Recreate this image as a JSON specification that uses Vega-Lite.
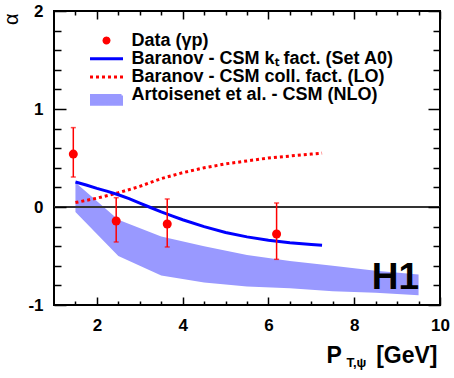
{
  "$schema": "https://vega.github.io/schema/vega-lite/v6.json",
  "width": 386,
  "height": 294,
  "autosize": {"type": "none"},
  "padding": {"left": 54, "top": 11, "right": 14, "bottom": 73},
  "background": "white",
  "config": {"view": {"stroke": "black", "strokeWidth": 2}, "font": "Liberation Sans"},
  "datasets": {
    "points": [
      {"pt": 1.45, "alpha": 0.54, "lo": 0.306, "hi": 0.81, "series": "Data (γp)"},
      {"pt": 2.45, "alpha": -0.143, "lo": -0.357, "hi": 0.095, "series": "Data (γp)"},
      {"pt": 3.64, "alpha": -0.173, "lo": -0.408, "hi": 0.082, "series": "Data (γp)"},
      {"pt": 6.19, "alpha": -0.276, "lo": -0.534, "hi": 0.041, "series": "Data (γp)"}
    ],
    "kt": [
      {"pt": 1.5, "alpha": 0.255, "series": "Baranov - CSM kₜ fact. (Set A0)"},
      {"pt": 1.75, "alpha": 0.225, "series": "Baranov - CSM kₜ fact. (Set A0)"},
      {"pt": 2.0, "alpha": 0.19, "series": "Baranov - CSM kₜ fact. (Set A0)"},
      {"pt": 2.25, "alpha": 0.16, "series": "Baranov - CSM kₜ fact. (Set A0)"},
      {"pt": 2.5, "alpha": 0.125, "series": "Baranov - CSM kₜ fact. (Set A0)"},
      {"pt": 2.75, "alpha": 0.085, "series": "Baranov - CSM kₜ fact. (Set A0)"},
      {"pt": 3.0, "alpha": 0.04, "series": "Baranov - CSM kₜ fact. (Set A0)"},
      {"pt": 3.25, "alpha": -0.005, "series": "Baranov - CSM kₜ fact. (Set A0)"},
      {"pt": 3.5, "alpha": -0.05, "series": "Baranov - CSM kₜ fact. (Set A0)"},
      {"pt": 3.75, "alpha": -0.09, "series": "Baranov - CSM kₜ fact. (Set A0)"},
      {"pt": 4.0, "alpha": -0.13, "series": "Baranov - CSM kₜ fact. (Set A0)"},
      {"pt": 4.5, "alpha": -0.2, "series": "Baranov - CSM kₜ fact. (Set A0)"},
      {"pt": 5.0, "alpha": -0.26, "series": "Baranov - CSM kₜ fact. (Set A0)"},
      {"pt": 5.5, "alpha": -0.305, "series": "Baranov - CSM kₜ fact. (Set A0)"},
      {"pt": 6.0, "alpha": -0.34, "series": "Baranov - CSM kₜ fact. (Set A0)"},
      {"pt": 6.5, "alpha": -0.365, "series": "Baranov - CSM kₜ fact. (Set A0)"},
      {"pt": 7.0, "alpha": -0.383, "series": "Baranov - CSM kₜ fact. (Set A0)"},
      {"pt": 7.25, "alpha": -0.39, "series": "Baranov - CSM kₜ fact. (Set A0)"}
    ],
    "coll": [
      {"pt": 1.5, "alpha": 0.045, "series": "Baranov - CSM coll. fact. (LO)"},
      {"pt": 2.0, "alpha": 0.09, "series": "Baranov - CSM coll. fact. (LO)"},
      {"pt": 2.5, "alpha": 0.145, "series": "Baranov - CSM coll. fact. (LO)"},
      {"pt": 3.0, "alpha": 0.21, "series": "Baranov - CSM coll. fact. (LO)"},
      {"pt": 3.5, "alpha": 0.29, "series": "Baranov - CSM coll. fact. (LO)"},
      {"pt": 4.0, "alpha": 0.35, "series": "Baranov - CSM coll. fact. (LO)"},
      {"pt": 4.5, "alpha": 0.4, "series": "Baranov - CSM coll. fact. (LO)"},
      {"pt": 5.0, "alpha": 0.44, "series": "Baranov - CSM coll. fact. (LO)"},
      {"pt": 5.5, "alpha": 0.47, "series": "Baranov - CSM coll. fact. (LO)"},
      {"pt": 6.0, "alpha": 0.5, "series": "Baranov - CSM coll. fact. (LO)"},
      {"pt": 6.5, "alpha": 0.52, "series": "Baranov - CSM coll. fact. (LO)"},
      {"pt": 7.0, "alpha": 0.54, "series": "Baranov - CSM coll. fact. (LO)"},
      {"pt": 7.25, "alpha": 0.55, "series": "Baranov - CSM coll. fact. (LO)"}
    ],
    "nlo": [
      {"pt": 1.5, "lo": -0.05, "hi": 0.25, "series": "Artoisenet et al. - CSM (NLO)"},
      {"pt": 2.5, "lo": -0.5, "hi": -0.13, "series": "Artoisenet et al. - CSM (NLO)"},
      {"pt": 3.5, "lo": -0.7, "hi": -0.3, "series": "Artoisenet et al. - CSM (NLO)"},
      {"pt": 4.5, "lo": -0.77, "hi": -0.4, "series": "Artoisenet et al. - CSM (NLO)"},
      {"pt": 5.5, "lo": -0.81, "hi": -0.49, "series": "Artoisenet et al. - CSM (NLO)"},
      {"pt": 6.5, "lo": -0.83, "hi": -0.55, "series": "Artoisenet et al. - CSM (NLO)"},
      {"pt": 7.5, "lo": -0.86, "hi": -0.6, "series": "Artoisenet et al. - CSM (NLO)"},
      {"pt": 8.5, "lo": -0.875, "hi": -0.65, "series": "Artoisenet et al. - CSM (NLO)"},
      {"pt": 9.5, "lo": -0.9, "hi": -0.69, "series": "Artoisenet et al. - CSM (NLO)"}
    ]
  },
  "resolve": {"axis": {"x": "independent", "y": "independent"}},
  "layer": [
    {
      "data": {"name": "nlo"},
      "mark": {"type": "area", "opacity": 1},
      "encoding": {
        "x": {
          "field": "pt", "type": "quantitative",
          "scale": {"domain": [1, 10], "nice": false, "zero": false},
          "axis": {
            "orient": "bottom", "offset": -8, "zindex": 1,
            "values": [2, 4, 6, 8, 10],
            "domain": false, "grid": false,
            "tickColor": "black", "tickWidth": 1.5, "tickSize": 8,
            "labelExpr": "'' + datum.value",
            "labelFont": "Liberation Sans", "labelFontWeight": "bold", "labelFontSize": 17, "labelColor": "black",
            "labelPadding": 12, "labelFlush": false, "labelOverlap": false, "labelBound": false,
            "title": "P",
            "titleFont": "Liberation Sans", "titleFontSize": 23, "titleFontWeight": "bold", "titleColor": "black",
            "titleX": 272, "titleY": 65, "titleAlign": "left", "titleBaseline": "alphabetic", "titleAngle": 0
          }
        },
        "y": {
          "field": "lo", "type": "quantitative",
          "scale": {"domain": [-1, 2], "nice": false, "zero": false},
          "axis": {
            "orient": "left", "offset": -12, "zindex": 1,
            "values": [-1, 0, 1, 2],
            "domain": false, "grid": false,
            "tickColor": "black", "tickWidth": 1.5, "tickSize": 12,
            "labelExpr": "datum.value < 0 ? '-' + abs(datum.value) : '' + datum.value",
            "labelFont": "Liberation Sans", "labelFontWeight": "bold", "labelFontSize": 17, "labelColor": "black",
            "labelPadding": 11, "labelFlush": false, "labelOverlap": false, "labelBound": false,
            "title": "α",
            "titleFont": "Liberation Sans", "titleFontSize": 20, "titleFontWeight": "normal", "titleColor": "black",
            "titleX": -49, "titleY": 2, "titleAlign": "right", "titleBaseline": "alphabetic", "titleAngle": -90
          }
        },
        "y2": {"field": "hi"},
        "color": {
          "field": "series", "type": "nominal",
          "scale": {
            "domain": ["Data (γp)", "Baranov - CSM kₜ fact. (Set A0)", "Baranov - CSM coll. fact. (LO)", "Artoisenet et al. - CSM (NLO)"],
            "range": ["#ff0000", "#0000ff", "#ff0000", "#9999ff"]
          },
          "legend": {
            "orient": "none", "legendX": 43.5, "legendY": 20.5, "title": null, "padding": 0,
            "labelFont": "Liberation Sans", "labelFontSize": 18, "labelFontWeight": "bold", "labelColor": "black",
            "labelLimit": 400, "labelOffset": 16, "rowPadding": 0.3,
            "symbolSize": 225, "symbolStrokeWidth": 3, "symbolOpacity": 1,
            "symbolType": {"expr": "indexof(datum.value, 'Data') === 0 ? 'M0.3333,0L0.2887,0.1667L0.1667,0.2887L0,0.3333L-0.1667,0.2887L-0.2887,0.1667L-0.3333,0L-0.2887,-0.1667L-0.1667,-0.2887L0,-0.3333L0.1667,-0.2887L0.2887,-0.1667Z' : indexof(datum.value, 'Artoisenet') === 0 ? 'M-2,0.013H2V1.173H-2Z' : 'M-2.2,0H2.2'"},
            "symbolDash": {"expr": "indexof(datum.value, 'coll') >= 0 ? [3, 3] : [1, 0]"}
          }
        }
      }
    },
    {
      "data": {"values": [{"level": 0}]},
      "mark": {"type": "rule", "color": "#333333", "strokeWidth": 2},
      "encoding": {
        "y": {"field": "level", "type": "quantitative", "scale": {"domain": [-1, 2], "nice": false, "zero": false}, "axis": null}
      }
    },
    {
      "data": {"name": "coll"},
      "mark": {"type": "line", "strokeWidth": 3, "strokeDash": [3, 3]},
      "encoding": {
        "x": {
          "field": "pt", "type": "quantitative", "scale": {"domain": [1, 10], "nice": false, "zero": false},
          "axis": {
            "orient": "bottom", "offset": -4, "zindex": 1,
            "values": [1.5, 2.5, 3, 3.5, 4.5, 5, 5.5, 6.5, 7, 7.5, 8.5, 9, 9.5],
            "domain": false, "grid": false, "labels": false,
            "tickColor": "black", "tickWidth": 1.5, "tickSize": 4,
            "title": "[GeV]",
            "titleFont": "Liberation Sans", "titleFontSize": 23, "titleFontWeight": "bold", "titleColor": "black",
            "titleX": 383, "titleY": 61, "titleAlign": "right", "titleBaseline": "alphabetic", "titleAngle": 0
          }
        },
        "y": {
          "field": "alpha", "type": "quantitative", "scale": {"domain": [-1, 2], "nice": false, "zero": false},
          "axis": {
            "orient": "left", "offset": -7, "zindex": 1,
            "values": [-0.8, -0.6, -0.4, -0.2, 0.2, 0.4, 0.6, 0.8, 1.2, 1.4, 1.6, 1.8],
            "domain": false, "grid": false, "labels": false, "title": null,
            "tickColor": "black", "tickWidth": 1.5, "tickSize": 7
          }
        },
        "color": {
          "field": "series", "type": "nominal",
          "scale": {
            "domain": ["Data (γp)", "Baranov - CSM kₜ fact. (Set A0)", "Baranov - CSM coll. fact. (LO)", "Artoisenet et al. - CSM (NLO)"],
            "range": ["#ff0000", "#0000ff", "#ff0000", "#9999ff"]
          }
        }
      }
    },
    {
      "data": {"name": "kt"},
      "mark": {"type": "line", "strokeWidth": 3},
      "encoding": {
        "x": {
          "field": "pt", "type": "quantitative", "scale": {"domain": [1, 10], "nice": false, "zero": false},
          "axis": {
            "orient": "top", "offset": -8, "zindex": 1,
            "values": [2, 4, 6, 8, 10],
            "domain": false, "grid": false, "labels": false,
            "tickColor": "black", "tickWidth": 1.5, "tickSize": 8,
            "title": "T,ψ",
            "titleFont": "Liberation Sans", "titleFontSize": 13, "titleFontWeight": "bold", "titleColor": "black",
            "titleX": 292, "titleY": 347, "titleAlign": "left", "titleBaseline": "alphabetic", "titleAngle": 0
          }
        },
        "y": {
          "field": "alpha", "type": "quantitative", "scale": {"domain": [-1, 2], "nice": false, "zero": false},
          "axis": {
            "orient": "right", "offset": -12, "zindex": 1,
            "values": [-1, 0, 1, 2],
            "domain": false, "grid": false, "labels": false, "title": null,
            "tickColor": "black", "tickWidth": 1.5, "tickSize": 12
          }
        },
        "color": {
          "field": "series", "type": "nominal",
          "scale": {
            "domain": ["Data (γp)", "Baranov - CSM kₜ fact. (Set A0)", "Baranov - CSM coll. fact. (LO)", "Artoisenet et al. - CSM (NLO)"],
            "range": ["#ff0000", "#0000ff", "#ff0000", "#9999ff"]
          }
        }
      }
    },
    {
      "data": {"name": "points"},
      "mark": {"type": "errorbar", "color": "#ff0000", "thickness": 1.5, "ticks": {"size": 5, "thickness": 1.5, "color": "#ff0000"}},
      "encoding": {
        "x": {"field": "pt", "type": "quantitative", "scale": {"domain": [1, 10], "nice": false, "zero": false}, "axis": null},
        "y": {"field": "lo", "type": "quantitative", "scale": {"domain": [-1, 2], "nice": false, "zero": false}, "axis": null},
        "y2": {"field": "hi"}
      }
    },
    {
      "data": {"name": "points"},
      "mark": {"type": "circle", "size": 81, "opacity": 1},
      "encoding": {
        "x": {
          "field": "pt", "type": "quantitative", "scale": {"domain": [1, 10], "nice": false, "zero": false},
          "axis": {
            "orient": "top", "offset": -4, "zindex": 1,
            "values": [1.5, 2.5, 3, 3.5, 4.5, 5, 5.5, 6.5, 7, 7.5, 8.5, 9, 9.5],
            "domain": false, "grid": false, "labels": false, "title": null,
            "tickColor": "black", "tickWidth": 1.5, "tickSize": 4
          }
        },
        "y": {
          "field": "alpha", "type": "quantitative", "scale": {"domain": [-1, 2], "nice": false, "zero": false},
          "axis": {
            "orient": "right", "offset": -7, "zindex": 1,
            "values": [-0.8, -0.6, -0.4, -0.2, 0.2, 0.4, 0.6, 0.8, 1.2, 1.4, 1.6, 1.8],
            "domain": false, "grid": false, "labels": false, "title": null,
            "tickColor": "black", "tickWidth": 1.5, "tickSize": 7
          }
        },
        "color": {
          "field": "series", "type": "nominal",
          "scale": {
            "domain": ["Data (γp)", "Baranov - CSM kₜ fact. (Set A0)", "Baranov - CSM coll. fact. (LO)", "Artoisenet et al. - CSM (NLO)"],
            "range": ["#ff0000", "#0000ff", "#ff0000", "#9999ff"]
          }
        }
      }
    },
    {
      "data": {"values": [{"label": "H1", "pt": 8.96, "alpha": -0.84}]},
      "mark": {"type": "text", "font": "Liberation Sans", "fontSize": 37, "fontWeight": "bold", "color": "black", "align": "center", "baseline": "alphabetic"},
      "encoding": {
        "x": {"field": "pt", "type": "quantitative", "scale": {"domain": [1, 10], "nice": false, "zero": false}, "axis": null},
        "y": {"field": "alpha", "type": "quantitative", "scale": {"domain": [-1, 2], "nice": false, "zero": false}, "axis": null},
        "text": {"field": "label"}
      }
    }
  ]
}
